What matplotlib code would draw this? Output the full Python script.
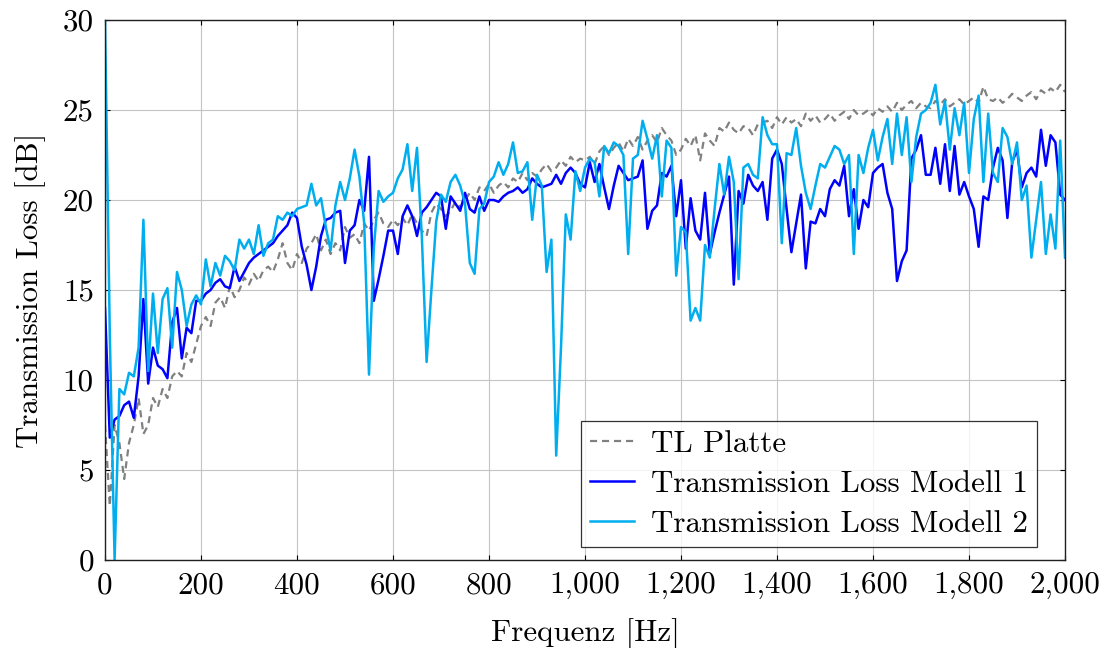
import numpy as np
import matplotlib
matplotlib.use("Agg")
import matplotlib.pyplot as plt
from matplotlib.ticker import FuncFormatter

plt.rcParams['font.family'] = 'cmr10'
plt.rcParams['mathtext.fontset'] = 'cm'
plt.rcParams['axes.formatter.use_mathtext'] = True

# Frequency grid [Hz]
freq = np.arange(0, 2001, 10)

# Transmission loss of the bare plate [dB]
tl_platte = [
    7.5, 3.0, 7.5, 6.5, 4.5, 6.5, 7.5, 9.0, 7.0, 7.5, 9.0, 8.5, 9.5, 9.0, 10.2, 10.5, 10.2, 11.5, 11.0, 12.0,
    13.0, 13.5, 13.0, 14.3, 14.6, 14.0, 15.2, 14.6, 15.0, 15.7, 15.3, 15.9, 15.5, 16.1, 16.3, 16.0, 16.7, 17.6, 16.5, 16.1,
    17.0, 16.5, 17.3, 17.6, 18.1, 17.2, 17.8, 17.0, 17.6, 17.2, 18.5, 17.9, 18.1, 17.6, 18.7, 18.3, 18.9, 19.3, 18.7, 18.5,
    18.9, 18.6, 19.0, 18.6, 19.2, 18.7, 18.3, 18.0, 19.3, 19.8, 19.5, 19.1, 19.4, 19.9, 19.6, 20.0, 20.4, 20.0, 20.7, 20.5,
    20.9, 20.4, 20.8, 21.0, 20.7, 21.2, 21.0, 21.5, 21.1, 21.5, 21.3, 21.7, 22.0, 21.6, 21.8, 22.2, 21.9, 22.4, 22.1, 22.3,
    22.2, 22.4, 22.0, 22.7, 23.0, 22.5, 22.9, 23.2, 22.7, 23.4, 23.0, 23.5, 22.8, 23.3, 23.6, 23.2, 24.0, 23.6, 23.3, 22.5,
    22.8, 23.4, 23.0, 23.6, 22.2, 23.7, 23.3, 23.0, 24.0, 23.8, 24.3, 23.9, 23.7, 24.1, 24.0, 23.6, 24.2, 24.3, 24.4, 24.0,
    24.6, 24.2, 24.6, 24.3, 24.5, 24.1, 24.8, 24.4, 24.7, 24.3, 24.5, 24.8, 24.4, 24.7, 24.9, 24.5, 25.0, 24.7, 24.8, 25.0,
    24.7, 25.1, 24.9, 25.2, 24.9, 25.4, 25.0, 25.3, 25.5, 25.1, 25.4, 25.2, 25.1, 25.5, 25.3, 25.6, 25.2, 25.4, 25.6, 25.3,
    25.5, 25.7, 25.4, 26.3, 25.6, 25.5, 25.7, 25.4, 25.6, 25.9, 25.7, 25.5, 25.8, 26.0, 25.6, 26.1, 25.9, 26.2, 26.0, 26.4,
    26.0,
]

# Transmission loss, model 1 [dB]
tl_modell_1 = [
    14.0, 6.8, 7.8, 8.0, 8.6, 8.8, 7.9, 10.2, 14.5, 9.8, 11.8, 10.8, 10.6, 10.1, 13.2, 14.0, 11.2, 12.9, 12.6, 14.4,
    14.4, 14.8, 15.0, 15.4, 15.6, 15.2, 15.1, 16.3, 15.5, 16.0, 16.5, 16.8, 17.0, 17.2, 17.4, 17.6, 18.0, 18.3, 18.6, 19.3,
    19.0, 17.4, 16.4, 15.0, 16.3, 18.0, 18.9, 19.0, 19.3, 19.4, 16.5, 18.3, 18.6, 20.0, 19.4, 22.4, 14.4, 15.6, 16.9, 18.3,
    18.3, 17.0, 19.1, 19.7, 19.1, 18.0, 19.3, 19.6, 20.0, 20.4, 20.2, 18.4, 20.2, 19.8, 19.4, 20.4, 19.5, 19.3, 20.2, 19.4,
    20.0, 20.0, 19.9, 20.2, 20.4, 20.5, 20.7, 20.4, 20.6, 21.2, 20.9, 20.7, 20.8, 20.9, 21.4, 20.9, 21.5, 21.8, 21.5, 20.9,
    20.7, 22.1, 21.0, 22.0, 20.7, 19.5, 20.8, 21.9, 21.5, 21.1, 21.2, 21.3, 22.2, 18.4, 19.4, 19.7, 21.5, 21.3, 21.9, 19.1,
    21.1, 17.3, 20.1, 18.3, 17.8, 20.4, 17.0, 18.2, 19.3, 20.3, 21.3, 15.3, 20.5, 19.8, 21.4, 20.8, 20.5, 21.0, 18.9, 22.3,
    22.8, 22.0, 19.5, 17.1, 18.7, 20.3, 16.2, 18.8, 18.7, 19.5, 19.1, 20.6, 21.1, 20.8, 21.9, 19.1, 20.6, 18.4, 20.0, 19.6,
    21.5, 21.8, 22.0, 20.4, 19.5, 15.5, 16.6, 17.2, 22.3, 22.8, 23.6, 21.4, 21.4, 22.9, 20.9, 23.1, 20.5, 23.0, 20.3, 21.0,
    20.2, 19.5, 17.4, 20.2, 20.0, 21.8, 22.9, 22.2, 19.0, 22.1, 22.8, 20.7, 21.5, 21.8, 21.3, 23.9, 21.9, 23.6, 23.2, 20.3,
    20.0,
]

# Transmission loss, model 2 [dB]
tl_modell_2 = [
    30.0, 12.5, 0.0, 9.5, 9.2, 10.4, 10.2, 11.8, 18.9, 10.5, 14.8, 11.5, 14.5, 15.1, 11.8, 16.0, 15.0, 13.0, 14.2, 14.7,
    14.2, 16.7, 15.2, 16.5, 15.8, 16.9, 16.6, 16.1, 17.8, 17.3, 17.8, 17.0, 18.6, 16.9, 17.6, 17.8, 19.1, 18.9, 19.3, 19.1,
    19.5, 19.6, 19.7, 20.9, 19.7, 20.1, 18.5, 17.2, 19.7, 21.0, 20.0, 21.2, 22.8, 21.3, 18.7, 10.3, 17.3, 20.5, 19.9, 20.2,
    20.4, 21.2, 21.7, 23.1, 20.5, 22.9, 18.0, 11.0, 15.0, 18.8, 20.3, 19.9, 21.0, 21.4, 20.8, 19.8, 16.5, 15.9, 19.5, 19.8,
    21.0, 21.3, 22.1, 21.4, 22.0, 23.2, 21.5, 21.6, 22.1, 18.9, 21.4, 20.8, 16.0, 17.8, 5.8, 11.8, 19.2, 17.8, 21.6, 20.5,
    21.8, 22.3, 22.1, 20.2, 23.0, 22.6, 23.2, 23.0, 22.5, 17.0, 22.3, 22.5, 24.4, 23.4, 22.3, 23.6, 20.2, 23.3, 22.9, 15.8,
    18.5, 18.2, 13.3, 14.0, 13.3, 17.5, 16.8, 19.5, 22.0, 20.3, 22.4, 21.0, 15.6, 21.8, 22.0, 21.4, 21.2, 24.6, 23.6, 23.1,
    23.1, 17.6, 22.6, 22.5, 24.0, 21.9, 20.4, 19.5, 20.8, 22.0, 21.8, 22.4, 23.0, 22.8, 22.0, 22.5, 17.0, 22.5, 21.5, 22.9,
    23.9, 22.2, 23.5, 24.5, 22.0, 24.8, 22.5, 24.6, 21.0, 23.5, 24.8, 25.0, 25.4, 26.4, 24.2, 25.5, 22.8, 25.1, 23.6, 25.4,
    21.5, 24.5, 25.8, 21.0, 24.8, 21.5, 21.0, 24.0, 23.5, 22.0, 23.2, 20.0, 20.8, 16.8, 18.9, 21.0, 17.0, 19.2, 17.3, 23.3,
    16.8,
]

labels = ["TL Platte", "Transmission Loss Modell 1", "Transmission Loss Modell 2"]
x_ticks = np.arange(0, 2001, 200)
y_ticks = np.arange(0, 31, 5)

FS = 22.3

fig = plt.figure(figsize=(11.08, 6.48), dpi=100)
ax = fig.add_axes([105 / 1108, 1 - 560 / 648, 960 / 1108, 540 / 648])

ax.plot(freq, tl_platte, color="#808080", lw=1.6, dashes=(3.2, 2.2), label=labels[0])
ax.plot(freq, tl_modell_1, color="#0000ff", lw=1.8, label=labels[1])
ax.plot(freq, tl_modell_2, color="#00aeef", lw=1.8, label=labels[2])

ax.set_xlim(0, 2000)
ax.set_ylim(0, 30)
ax.set_xticks(x_ticks)
ax.set_yticks(y_ticks)
ax.xaxis.set_major_formatter(FuncFormatter(lambda v, p: f"{int(round(v)):,}"))
ax.yaxis.set_major_formatter(FuncFormatter(lambda v, p: f"{int(round(v))}"))

ax.grid(True, color="#c4c4c4", lw=0.8)
ax.set_axisbelow(True)
for s in ax.spines.values():
    s.set_color("#202020")
    s.set_linewidth(1.0)
ax.tick_params(direction="in", length=3.5, width=0.8, labelsize=FS, pad=8,
               top=True, right=True)

ax.set_xlabel("Frequenz [Hz]", fontsize=FS, labelpad=14)
ax.set_ylabel("Transmission Loss [dB]", fontsize=FS, labelpad=12)

leg = ax.legend(loc="lower right", bbox_to_anchor=(0.971, 0.024), borderaxespad=0,
                fontsize=FS, frameon=True, fancybox=False, edgecolor="#000000",
                handlelength=1.4, handletextpad=0.55, labelspacing=0.38, borderpad=0.3)
leg.get_frame().set_linewidth(0.9)

fig.savefig("out.png", dpi=100)
